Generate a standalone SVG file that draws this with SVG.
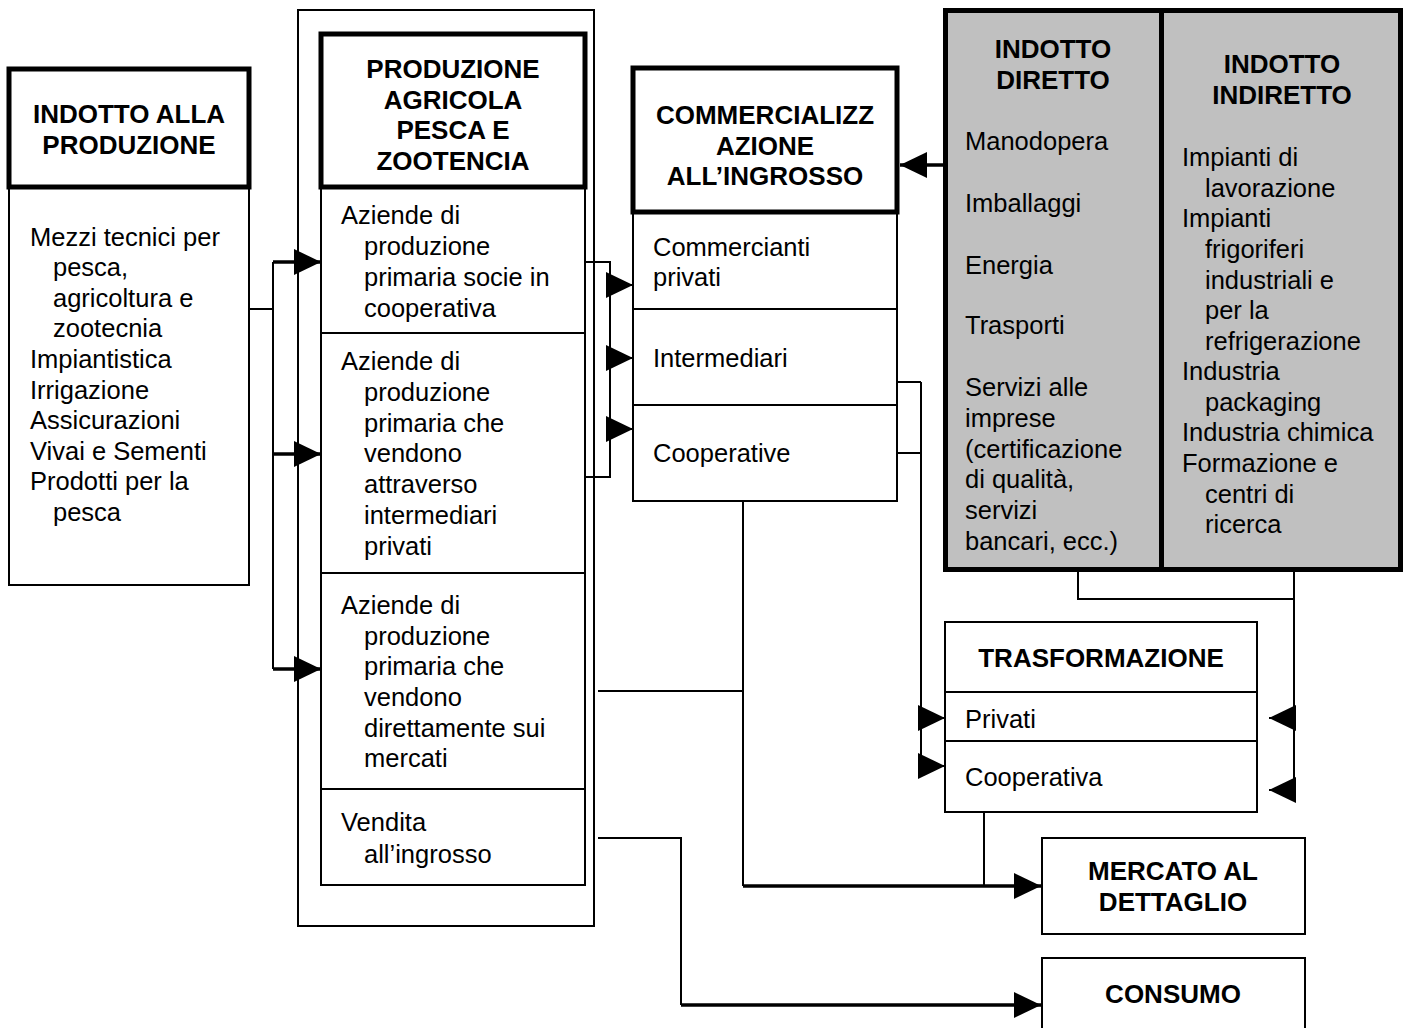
<svg xmlns="http://www.w3.org/2000/svg" width="1409" height="1028" viewBox="0 0 1409 1028">
<style>
.thin{fill:#fff;stroke:#000;stroke-width:2}
.thick{fill:#fff;stroke:#000;stroke-width:5}
.gray{fill:#c0c0c0;stroke:#000;stroke-width:5}
.ln{fill:none;stroke:#000;stroke-width:2}
.al{fill:none;stroke:#000;stroke-width:3.5}
text{font-family:"Liberation Sans",Arial,sans-serif;fill:#000}
.b{font-weight:bold;font-size:26px;text-anchor:middle}
.r{font-size:25.5px}
</style>
<defs>
<marker id="ah" markerUnits="userSpaceOnUse" markerWidth="28" markerHeight="28" refX="27" refY="13" orient="auto">
<path d="M0,0 L27,13 L0,26 Z" fill="#000"/>
</marker>
</defs>

<g id="indotto-produzione">
<rect class="thin" x="9" y="188" width="240" height="397"/>
<rect class="thick" x="9" y="69" width="240" height="118"/>
<text class="b" x="129" y="123">INDOTTO ALLA</text>
<text class="b" x="129" y="154">PRODUZIONE</text>
<text class="r" x="30" y="246">Mezzi tecnici per</text>
<text class="r" x="53" y="276">pesca,</text>
<text class="r" x="53" y="307">agricoltura e</text>
<text class="r" x="53" y="337">zootecnia</text>
<text class="r" x="30" y="368">Impiantistica</text>
<text class="r" x="30" y="399">Irrigazione</text>
<text class="r" x="30" y="429">Assicurazioni</text>
<text class="r" x="30" y="460">Vivai e Sementi</text>
<text class="r" x="30" y="490">Prodotti per la</text>
<text class="r" x="53" y="521">pesca</text>
</g>

<g id="produzione">
<rect class="thin" x="298" y="10" width="296" height="916"/>
<rect class="thin" x="321" y="188" width="264" height="697"/>
<path class="ln" d="M321,333 H585 M321,573 H585 M321,789 H585"/>
<rect class="thick" x="321" y="34" width="264" height="153"/>
<text class="b" x="453" y="78">PRODUZIONE</text>
<text class="b" x="453" y="109">AGRICOLA</text>
<text class="b" x="453" y="139">PESCA E</text>
<text class="b" x="453" y="170">ZOOTENCIA</text>
<text class="r" x="341" y="224">Aziende di</text>
<text class="r" x="364" y="255">produzione</text>
<text class="r" x="364" y="286">primaria socie in</text>
<text class="r" x="364" y="317">cooperativa</text>
<text class="r" x="341" y="370">Aziende di</text>
<text class="r" x="364" y="401">produzione</text>
<text class="r" x="364" y="432">primaria che</text>
<text class="r" x="364" y="462">vendono</text>
<text class="r" x="364" y="493">attraverso</text>
<text class="r" x="364" y="524">intermediari</text>
<text class="r" x="364" y="555">privati</text>
<text class="r" x="341" y="614">Aziende di</text>
<text class="r" x="364" y="645">produzione</text>
<text class="r" x="364" y="675">primaria che</text>
<text class="r" x="364" y="706">vendono</text>
<text class="r" x="364" y="737">direttamente sui</text>
<text class="r" x="364" y="767">mercati</text>
<text class="r" x="341" y="831">Vendita</text>
<text class="r" x="364" y="863">all’ingrosso</text>
</g>

<g id="commercializzazione">
<rect class="thin" x="633" y="212" width="264" height="289"/>
<path class="ln" d="M633,309 H897 M633,405 H897"/>
<rect class="thick" x="633" y="68" width="264" height="144"/>
<text class="b" x="765" y="124">COMMERCIALIZZ</text>
<text class="b" x="765" y="155">AZIONE</text>
<text class="b" x="765" y="185">ALL’INGROSSO</text>
<text class="r" x="653" y="256">Commercianti</text>
<text class="r" x="653" y="286">privati</text>
<text class="r" x="653" y="367">Intermediari</text>
<text class="r" x="653" y="462">Cooperative</text>
</g>

<g id="indotto-diretto-indiretto">
<rect class="gray" x="945.5" y="10.5" width="455" height="559"/>
<line x1="1161.5" y1="10" x2="1161.5" y2="570" stroke="#000" stroke-width="5"/>
<text class="b" x="1053" y="58">INDOTTO</text>
<text class="b" x="1053" y="89">DIRETTO</text>
<text class="r" x="965" y="150">Manodopera</text>
<text class="r" x="965" y="212">Imballaggi</text>
<text class="r" x="965" y="274">Energia</text>
<text class="r" x="965" y="334">Trasporti</text>
<text class="r" x="965" y="396">Servizi alle</text>
<text class="r" x="965" y="427">imprese</text>
<text class="r" x="965" y="458">(certificazione</text>
<text class="r" x="965" y="488">di qualità,</text>
<text class="r" x="965" y="519">servizi</text>
<text class="r" x="965" y="550">bancari, ecc.)</text>
<text class="b" x="1282" y="73">INDOTTO</text>
<text class="b" x="1282" y="104">INDIRETTO</text>
<text class="r" x="1182" y="166">Impianti di</text>
<text class="r" x="1205" y="197">lavorazione</text>
<text class="r" x="1182" y="227">Impianti</text>
<text class="r" x="1205" y="258">frigoriferi</text>
<text class="r" x="1205" y="289">industriali e</text>
<text class="r" x="1205" y="319">per la</text>
<text class="r" x="1205" y="350">refrigerazione</text>
<text class="r" x="1182" y="380">Industria</text>
<text class="r" x="1205" y="411">packaging</text>
<text class="r" x="1182" y="441">Industria chimica</text>
<text class="r" x="1182" y="472">Formazione e</text>
<text class="r" x="1205" y="503">centri di</text>
<text class="r" x="1205" y="533">ricerca</text>
</g>

<g id="trasformazione">
<rect class="thin" x="945" y="622" width="312" height="190"/>
<path class="ln" d="M945,692 H1257 M945,741 H1257"/>
<text class="b" x="1101" y="667">TRASFORMAZIONE</text>
<text class="r" x="965" y="728">Privati</text>
<text class="r" x="965" y="786">Cooperativa</text>
</g>

<g id="mercato-dettaglio">
<rect class="thin" x="1042" y="838" width="263" height="96"/>
<text class="b" x="1173" y="880">MERCATO AL</text>
<text class="b" x="1173" y="911">DETTAGLIO</text>
</g>

<g id="consumo">
<rect class="thin" x="1042" y="958" width="263" height="80"/>
<text class="b" x="1173" y="1003">CONSUMO</text>
</g>

<g id="connectors">
<path class="ln" d="M249,309 H273 M273,262 V669"/>
<line class="al" x1="273" y1="262" x2="321" y2="262" marker-end="url(#ah)"/>
<line class="al" x1="273" y1="454" x2="321" y2="454" marker-end="url(#ah)"/>
<line class="al" x1="273" y1="669" x2="321" y2="669" marker-end="url(#ah)"/>
<path class="ln" d="M586,262 H610 V477 H586"/>
<line class="ln" x1="610" y1="285" x2="633" y2="285" marker-end="url(#ah)"/>
<line class="ln" x1="610" y1="358" x2="633" y2="358" marker-end="url(#ah)"/>
<line class="ln" x1="610" y1="429" x2="633" y2="429" marker-end="url(#ah)"/>
<line class="al" x1="945" y1="165" x2="900" y2="165" marker-end="url(#ah)"/>
<path class="ln" d="M897,382 H921 M897,453 H921 M921,382 V766"/>
<line class="ln" x1="921" y1="718" x2="945" y2="718" marker-end="url(#ah)"/>
<line class="ln" x1="921" y1="766" x2="945" y2="766" marker-end="url(#ah)"/>
<path class="ln" d="M1078,572 V599 H1294 M1294,572 V790"/>
<line class="ln" x1="1296" y1="718" x2="1269" y2="718" marker-end="url(#ah)"/>
<line class="ln" x1="1296" y1="790" x2="1269" y2="790" marker-end="url(#ah)"/>
<path class="ln" d="M598,691 H743 M743,501 V886 M984,812 V886"/>
<line class="al" x1="743" y1="886" x2="1041" y2="886" marker-end="url(#ah)"/>
<path class="ln" d="M598,838 H681 V1005"/>
<line class="al" x1="681" y1="1005" x2="1041" y2="1005" marker-end="url(#ah)"/>
</g>
</svg>
